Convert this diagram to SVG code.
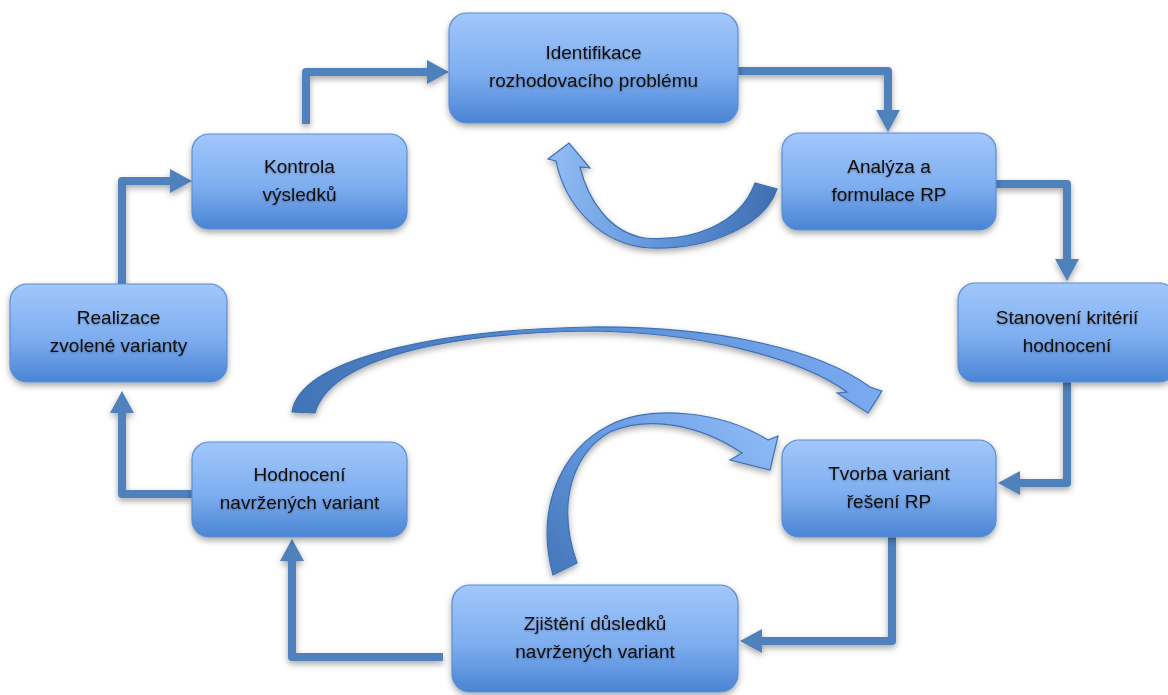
<svg xmlns="http://www.w3.org/2000/svg" width="1168" height="695" viewBox="0 0 1168 695">
<defs>
<linearGradient id="boxg" x1="0" y1="0" x2="0" y2="1">
<stop offset="0" stop-color="#a2c7fb"/>
<stop offset="0.55" stop-color="#7eaef0"/>
<stop offset="1" stop-color="#4a84d4"/>
</linearGradient>
<linearGradient id="g1" gradientUnits="userSpaceOnUse" x1="777" y1="190" x2="560" y2="150">
<stop offset="0" stop-color="#3f6fb0"/>
<stop offset="0.4" stop-color="#5b8fd6"/>
<stop offset="1" stop-color="#8fbaf3"/>
</linearGradient>
<linearGradient id="g2" gradientUnits="userSpaceOnUse" x1="292" y1="412" x2="880" y2="400">
<stop offset="0" stop-color="#4274b6"/>
<stop offset="0.5" stop-color="#5a8fd8"/>
<stop offset="1" stop-color="#7aaaf0"/>
</linearGradient>
<linearGradient id="g3" gradientUnits="userSpaceOnUse" x1="560" y1="575" x2="760" y2="420">
<stop offset="0" stop-color="#4678bb"/>
<stop offset="0.5" stop-color="#6a9de4"/>
<stop offset="1" stop-color="#8dbaf6"/>
</linearGradient>
<filter id="sh" x="-20%" y="-20%" width="140%" height="150%">
<feDropShadow dx="0" dy="3" stdDeviation="3" flood-color="#000" flood-opacity="0.35"/>
</filter>
<filter id="tsh" x="-10%" y="-30%" width="120%" height="160%">
<feDropShadow dx="0" dy="1" stdDeviation="0.8" flood-color="#000" flood-opacity="0.3"/>
</filter>
<marker id="ah" markerUnits="userSpaceOnUse" markerWidth="22" markerHeight="24" refX="0" refY="12" orient="auto" overflow="visible">
<path d="M0,0 L22,12 L0,24 Z" fill="#4f81bd"/>
</marker>
<style>
.box{fill:url(#boxg);stroke:#5a8ed2;stroke-width:1.2;filter:url(#sh)}
.t{font-family:"Liberation Sans",Arial,sans-serif;font-size:19px;fill:#111;text-anchor:middle;filter:url(#tsh)}
.c{fill:none;stroke:#4f81bd;stroke-width:8;stroke-linejoin:round;marker-end:url(#ah)}
.ca{stroke:#3e70b2;stroke-width:1.2;filter:url(#sh)}
</style>
</defs>
<rect width="1168" height="695" fill="#fff"/>

<g id="connectors" filter="url(#sh)">
<path class="c" d="M306 124 V72 H427"/>
<path class="c" d="M738 71 H888 V110"/>
<path class="c" d="M996 184 H1067 V259"/>
<path class="c" d="M1067 382 V483 H1020"/>
<path class="c" d="M892 537 V641 H762"/>
<path class="c" d="M443 657 H292 V561"/>
<path class="c" d="M192 494 H122 V413"/>
<path class="c" d="M122 284 V181 H170"/>
</g>

<g id="curved-arrows">
<path id="arc1" class="ca" fill="url(#g1)" d="M755 183 C740 225 690 242 645 238 C610 233 588 200 580 167 L590 168 L569 143 L548 159 L556 161 C565 205 600 245 650 248 C710 250 765 225 777 189 Z"/>
<path id="arc2" class="ca" fill="url(#g2)" d="M292 412 C300 360 430 330 590 327 C720 326 820 350 870 387 L882 391 L868 413 L837 393 L847 392 C800 358 700 332 590 331 C440 333 330 360 315 413 Z"/>
<path id="arc3" class="ca" fill="url(#g3)" d="M553 575 C535 510 560 450 610 425 C650 405 720 410 768 440 L778 436 L770 470 L730 460 L742 453 C700 425 650 415 610 432 C575 452 555 500 577 563 Z"/>
</g>

<g id="n-identifikace">
<rect class="box" x="449" y="13" width="289" height="110" rx="18"/>
<text class="t" x="593.5" y="59">Identifikace</text>
<text class="t" x="593.5" y="87">rozhodovacího problému</text>
</g>
<g id="n-analyza">
<rect class="box" x="782" y="133" width="214" height="97" rx="17"/>
<text class="t" x="889" y="172.5">Analýza a</text>
<text class="t" x="889" y="200.5">formulace RP</text>
</g>
<g id="n-stanoveni">
<rect class="box" x="958" y="283" width="218" height="99" rx="17"/>
<text class="t" x="1067" y="324">Stanovení kritérií</text>
<text class="t" x="1067" y="352">hodnocení</text>
</g>
<g id="n-tvorba">
<rect class="box" x="782" y="440" width="214" height="97" rx="17"/>
<text class="t" x="889" y="479.5">Tvorba variant</text>
<text class="t" x="889" y="507.5">řešení RP</text>
</g>
<g id="n-zjisteni">
<rect class="box" x="452" y="585" width="286" height="107" rx="18"/>
<text class="t" x="595" y="630">Zjištění důsledků</text>
<text class="t" x="595" y="658">navržených variant</text>
</g>
<g id="n-hodnoceni">
<rect class="box" x="192" y="442" width="215" height="95" rx="17"/>
<text class="t" x="299.5" y="480.5">Hodnocení</text>
<text class="t" x="299.5" y="508.5">navržených variant</text>
</g>
<g id="n-realizace">
<rect class="box" x="10" y="284" width="217" height="98" rx="17"/>
<text class="t" x="118.5" y="324">Realizace</text>
<text class="t" x="118.5" y="352">zvolené varianty</text>
</g>
<g id="n-kontrola">
<rect class="box" x="192" y="134" width="215" height="95" rx="17"/>
<text class="t" x="299.5" y="172.5">Kontrola</text>
<text class="t" x="299.5" y="200.5">výsledků</text>
</g>
</svg>
